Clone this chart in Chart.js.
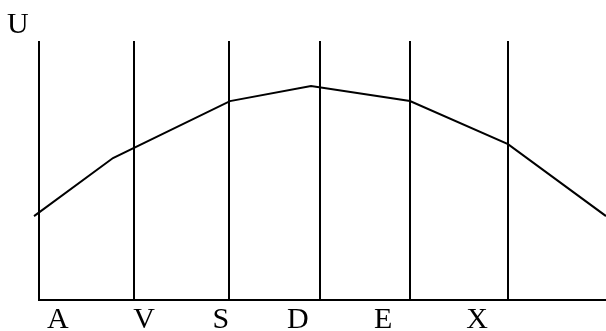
<!DOCTYPE html>
<html>
<head>
<meta charset="utf-8">
<script src="https://cdn.jsdelivr.net/npm/chart.js@4/dist/chart.umd.min.js"></script>
<style>
  html, body { margin: 0; padding: 0; background: #fff; }
  #wrap { width: 606px; height: 331px; position: relative; }
</style>
</head>
<body>
<div id="wrap"><canvas id="graph"></canvas></div>
<script>
// Positions along the axis, in column widths (0 = first vertical line)
const categories = ['A', 'V', 'S', 'D', 'E', 'X'];
const labelPos = [0.20, 1.12, 1.94, 2.76, 3.67, 4.67];
const dividerPos = [0, 1.013, 2.026, 2.996, 3.955, 5.0];

// The curve U
const curveX = [-0.053, 0.789, 2.036, 2.9, 3.955, 5.0, 6.045];
const curveY = [32.4, 54.8, 76.8, 82.6, 76.8, 60.2, 32.4];

const yTitle = 'U';
const serif = '"Liberation Serif", "Times New Roman", serif';

const xMin = 0;
const xMax = 6.045;

// Draws the "U" axis name above the left line
const axisName = {
    id: 'axisName',
    afterDraw(chart) {
        const ctx = chart.ctx;
        const area = chart.chartArea;
        ctx.save();
        ctx.fillStyle = '#000';
        ctx.font = '30px ' + serif;
        ctx.textAlign = 'left';
        ctx.textBaseline = 'alphabetic';
        ctx.fillText(yTitle, area.left - 32, area.top - 8);
        ctx.restore();
    }
};

const points = curveX.map((x, i) => ({ x: x, y: curveY[i] }));

new Chart(document.getElementById('graph').getContext('2d'), {
    type: 'line',
    data: {
        datasets: [{
            data: points,
            xAxisID: 'x',
            borderColor: '#000',
            borderWidth: 2,
            pointRadius: 0,
            tension: 0,
            fill: false,
            clip: false
        }]
    },
    options: {
        responsive: true,
        maintainAspectRatio: false,
        animation: false,
        layout: { padding: { top: 41, left: 39, right: 0, bottom: 0 } },
        plugins: {
            legend: { display: false },
            tooltip: { enabled: false }
        },
        scales: {
            // vertical dividers and the base line
            grid: {
                type: 'linear',
                position: 'bottom',
                weight: 0,
                min: xMin,
                max: xMax,
                afterBuildTicks: (axis) => {
                    axis.ticks = dividerPos.map(v => ({ value: v }));
                },
                afterFit: (axis) => { axis.height = 0; },
                ticks: { display: false },
                grid: { color: '#000', lineWidth: 2, drawTicks: false },
                border: { display: true, color: '#000', width: 2 }
            },
            // letter labels
            x: {
                type: 'linear',
                position: 'bottom',
                weight: 1,
                min: xMin,
                max: xMax,
                afterBuildTicks: (axis) => {
                    axis.ticks = labelPos.map(v => ({ value: v }));
                },
                afterFit: (axis) => { axis.height = 31; },
                grid: { display: false, drawTicks: false },
                border: { display: false },
                ticks: {
                    autoSkip: false,
                    maxRotation: 0,
                    padding: 5,
                    color: '#000',
                    font: { family: serif, size: 30, lineHeight: 1 },
                    callback: (value, index) => categories[index]
                }
            },
            y: {
                display: false,
                min: 0,
                max: 100
            }
        }
    },
    plugins: [axisName]
});
</script>
</body>
</html>
